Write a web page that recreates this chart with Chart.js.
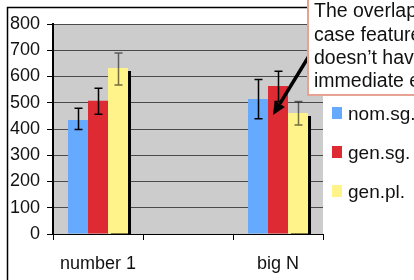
<!DOCTYPE html>
<html><head><meta charset="utf-8">
<script src="https://cdn.jsdelivr.net/npm/chart.js@4"></script>
<style>html,body{margin:0;padding:0;background:#fff;overflow:hidden}#wrap{width:414px;height:280px;position:relative}</style>
</head><body><div id="wrap"><canvas id="c" width="414" height="280"></canvas></div>
<script>
// ---- data ----
const categories = ['number 1', '', 'big N'];
const seriesNames = ['nom.sg.', 'gen.sg.', 'gen.pl.'];
const nomSg = [434, null, 514];
const genSg = [508, null, 564];
const genPl = [632, null, 461];
const nomSgErrLow  = [398, null, 439];
const nomSgErrHigh = [479, null, 589];
const genSgErrLow  = [456, null, 505];
const genSgErrHigh = [555, null, 620];
const genPlErrLow  = [568, null, 415];
const genPlErrHigh = [690, null, 505];
const yMin = 0, yMax = 800, yStep = 100;
const calloutLines = ['The overlap in', 'case features', 'doesn\u2019t have', 'immediate effect'];

const colors = ['#66aaff', '#dd2a33', '#fff38a'];
const errColors = ['#000', '#000', 'rgba(0,0,0,0.55)'];
const errLow = [nomSgErrLow, genSgErrLow, genPlErrLow];
const errHigh = [nomSgErrHigh, genSgErrHigh, genPlErrHigh];
const FONT = "'Liberation Sans', Arial, sans-serif";

Chart.defaults.font.family = FONT;

const decor = {
  id: 'decor',
  beforeDraw(chart) {
    const ctx = chart.ctx, a = chart.chartArea;
    ctx.save();
    ctx.fillStyle = '#fff';
    ctx.fillRect(0, 0, chart.width, chart.height);
    ctx.strokeStyle = '#000';
    ctx.lineWidth = 1.5;
    ctx.beginPath();
    ctx.moveTo(7.5, 300); ctx.lineTo(7.5, 7.5); ctx.lineTo(420, 7.5);
    ctx.stroke();
    ctx.fillStyle = '#cccccc';
    ctx.fillRect(a.left, a.top, a.right - a.left, a.bottom - a.top);
    ctx.restore();
  },
  beforeDatasetDraw(chart, args) {
    if (args.index === 2) {
      const ctx = chart.ctx;
      ctx.save();
      ctx.shadowColor = '#000';
      ctx.shadowOffsetX = 3;
      ctx.shadowOffsetY = 3;
      ctx.shadowBlur = 0;
    }
  },
  afterDatasetDraw(chart, args) {
    if (args.index === 2) chart.ctx.restore();
  },
  afterDatasetsDraw(chart) {
    const ctx = chart.ctx, ys = chart.scales.y;
    ctx.save();
    for (let i = 0; i < 3; i++) {
      const meta = chart.getDatasetMeta(i);
      ctx.strokeStyle = errColors[i];
      ctx.lineWidth = 1.5;
      meta.data.forEach((bar, j) => {
        if (errLow[i][j] == null) return;
        const x = Math.round(bar.x) + 0.5;
        const y1 = ys.getPixelForValue(errLow[i][j]);
        const y2 = ys.getPixelForValue(errHigh[i][j]);
        ctx.beginPath();
        ctx.moveTo(x, y1); ctx.lineTo(x, y2);
        ctx.moveTo(x - 4, y1); ctx.lineTo(x + 4, y1);
        ctx.moveTo(x - 4, y2); ctx.lineTo(x + 4, y2);
        ctx.stroke();
      });
    }
    ctx.restore();
  },
  afterDraw(chart) {
    const ctx = chart.ctx;
    ctx.save();
    // arrow
    const sx = 309, sy = 56, tx = 273, ty = 115;
    const ang = Math.atan2(ty - sy, tx - sx);
    const hl = 13, hw = 6;
    const bx = tx - hl * Math.cos(ang), by = ty - hl * Math.sin(ang);
    ctx.strokeStyle = '#000';
    ctx.lineWidth = 3.5;
    ctx.beginPath(); ctx.moveTo(sx, sy); ctx.lineTo(bx, by); ctx.stroke();
    ctx.fillStyle = '#000';
    ctx.beginPath();
    ctx.moveTo(tx, ty);
    ctx.lineTo(bx + hw * Math.sin(ang), by - hw * Math.cos(ang));
    ctx.lineTo(bx - hw * Math.sin(ang), by + hw * Math.cos(ang));
    ctx.closePath(); ctx.fill();
    // callout box
    ctx.fillStyle = '#fff';
    ctx.fillRect(308, -5, 130, 100);
    ctx.strokeStyle = '#e8a294';
    ctx.lineWidth = 2;
    ctx.strokeRect(308, -5, 130, 100);
    ctx.fillStyle = '#111';
    ctx.font = '19.5px ' + FONT;
    ctx.textAlign = 'left';
    ctx.textBaseline = 'alphabetic';
    const bl = [17, 41, 64, 87];
    calloutLines.forEach((t, k) => ctx.fillText(t, 314, bl[k]));
    // legend
    ctx.font = '19px ' + FONT;
    const lb = [120, 159, 198];
    chart.data.datasets.forEach((ds, k) => {
      ctx.fillStyle = ds.backgroundColor;
      ctx.fillRect(332, lb[k] - 13, 10, 12);
      ctx.fillStyle = '#111';
      ctx.fillText(ds.label, 348, lb[k]);
    });
    ctx.restore();
  }
};

new Chart(document.getElementById('c'), {
  type: 'bar',
  data: {
    labels: categories,
    datasets: [
      { label: seriesNames[0], data: nomSg, backgroundColor: colors[0] },
      { label: seriesNames[1], data: genSg, backgroundColor: colors[1] },
      { label: seriesNames[2], data: genPl, backgroundColor: colors[2] }
    ]
  },
  options: {
    responsive: false,
    animation: false,
    devicePixelRatio: 1,
    datasets: { bar: { categoryPercentage: 0.667, barPercentage: 1.0, borderWidth: 0 } },
    layout: { padding: { top: 24, right: 91, left: 0, bottom: 0 } },
    plugins: { legend: { display: false }, tooltip: { enabled: false } },
    scales: {
      x: {
        grid: { offset: true, drawOnChartArea: false, color: '#000', tickLength: 6 },
        border: { color: '#000', width: 1 },
        ticks: { font: { size: 18 }, color: '#111', padding: 13, maxRotation: 0 },
        afterFit: s => { s.height = 46; }
      },
      y: {
        min: yMin, max: yMax,
        ticks: { stepSize: yStep, font: { size: 18 }, color: '#111', padding: 7 },
        grid: { color: '#4a4a4a', tickColor: '#000', tickLength: 6 },
        border: { color: '#000', width: 2 },
        afterFit: s => { s.width = 53; }
      }
    }
  },
  plugins: [decor]
});
</script></body></html>
